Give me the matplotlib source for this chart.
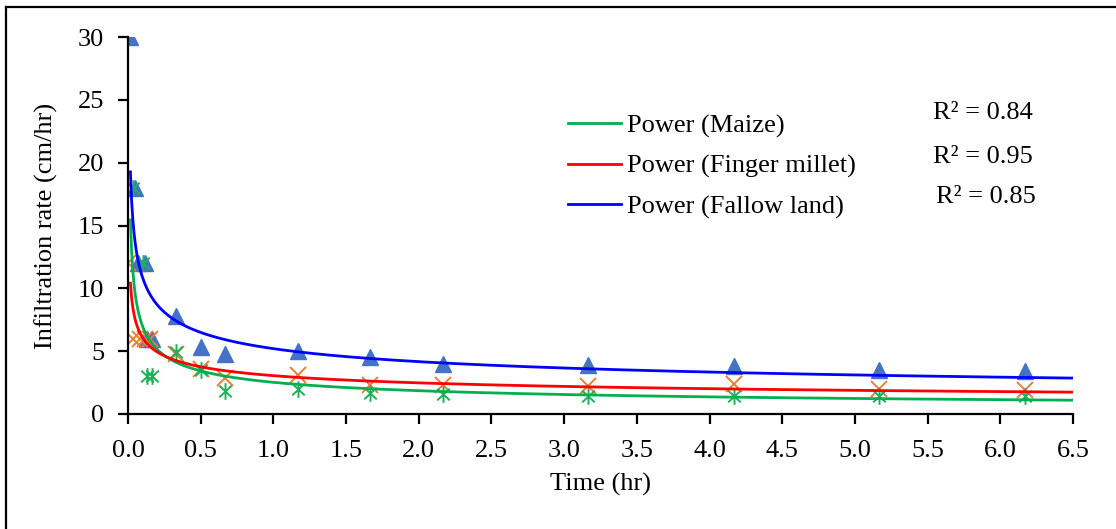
import numpy as np
import matplotlib
matplotlib.use("Agg")
import matplotlib.pyplot as plt
from matplotlib.path import Path
from matplotlib.lines import Line2D

# measured infiltration rates (cm/hr) against time (hr)
time_maize = [0.033, 0.1, 0.133, 0.167, 0.333, 0.5, 0.667, 1.167, 1.667, 2.167, 3.167, 4.167, 5.167, 6.167]
rate_maize = [18, 12, 3, 3, 4.9, 3.5, 1.8, 2.0, 1.7, 1.6, 1.4, 1.45, 1.45, 1.45]

time_millet = [0.003, 0.033, 0.083, 0.117, 0.15, 0.333, 0.5, 0.667, 1.167, 1.667, 2.167, 3.167, 4.167, 5.167, 6.167]
rate_millet = [12, 6, 6, 6, 6, 4.8, 3.6, 2.9, 3.1, 2.3, 2.3, 2.2, 2.4, 2.0, 1.9]

time_fallow = [0.0167, 0.05, 0.067, 0.117, 0.133, 0.167, 0.333, 0.5, 0.667, 1.167, 1.667, 2.167, 3.167, 4.167, 5.167, 6.167]
rate_fallow = [30, 18, 12, 12, 6, 6, 7.8, 5.3, 4.8, 5.0, 4.5, 4.0, 3.9, 3.8, 3.5, 3.4]

# power trendlines y = a * x^b (maize, finger millet, fallow land)
trend_names = ["Power (Maize)", "Power (Finger millet)", "Power (Fallow land)"]
trend_a = [2.52, 3.05, 5.2]
trend_b = [-0.443, -0.30, -0.32]
r_squared = [0.84, 0.95, 0.85]

plt.rcParams["font.family"] = ["Liberation Serif", "DejaVu Serif"]
plt.rcParams["font.size"] = 19

fig = plt.figure(figsize=(11.16, 5.29), dpi=100)
W, H = 1116, 529
ax = fig.add_axes([128 / W, 1 - 414 / H, (1073 - 128) / W, (414 - 37) / H])

# excel-like star marker: x with a vertical bar
star = Path([(0, -1), (0, 1), (-0.75, -0.7), (0.75, 0.7), (-0.75, 0.7), (0.75, -0.7)],
            [Path.MOVETO, Path.LINETO, Path.MOVETO, Path.LINETO, Path.MOVETO, Path.LINETO])

ax.plot(time_fallow, rate_fallow, ls="none", marker="^", ms=12, color="#4472C4", zorder=2)
ax.plot(time_millet, rate_millet, ls="none", marker="x", ms=11, mew=1.4, color="#ED7D31", zorder=2)
ax.plot(time_maize, rate_maize, ls="none", marker=star, ms=12, mew=1.4, mfc="none",
        mec="#1DB15A", zorder=2)

xs = np.linspace(0.0167, 6.5, 800)
line_cols = ["#00B050", "#FF0000", "#0000FF"]
handles = []
for a, b, col, name in zip(trend_a, trend_b, line_cols, trend_names):
    h, = ax.plot(xs, a * xs ** b, color=col, lw=2.0, zorder=3, label=name)
    handles.append(h)

ax.set_xlim(0, 6.5)
ax.set_ylim(0, 30)
ax.set_xticks(np.arange(0, 6.51, 0.5))
ax.set_xticklabels([f"{v:.1f}" for v in np.arange(0, 6.51, 0.5)])
ax.set_yticks(range(0, 31, 5))
for s in ["top", "right"]:
    ax.spines[s].set_visible(False)
for s in ["left", "bottom"]:
    ax.spines[s].set_linewidth(1.6)
ax.tick_params(axis="both", direction="out", length=7, width=1.6)
ax.tick_params(axis="x", pad=12)
ax.tick_params(axis="y", pad=10)

ax.set_xlabel("Time (hr)")
ax.xaxis.label.set_va("center")
ax.xaxis.set_label_coords(0.5, -0.188)
ax.set_ylabel("Infiltration rate (cm/hr)")
ax.yaxis.label.set_va("center")
ax.yaxis.set_label_coords(-0.086, 0.5)

ax.legend(handles=handles, loc="upper left", bbox_to_anchor=(568 / W, 1 - 114 / H),
          bbox_transform=fig.transFigure, frameon=False, borderpad=0, borderaxespad=0,
          handlelength=2.0, handletextpad=0.25, labelspacing=0.63)

r2_pos = [(983, 113), (983, 157), (986, 197)]
for (px, py), r2 in zip(r2_pos, r_squared):
    fig.text(px / W, 1 - py / H, f"R² = {r2:.2f}", ha="center", va="center")

# outer frame (left and top edges only)
fig.add_artist(Line2D([6 / W, 1], [1 - 7 / H] * 2, color="black", lw=1.6))
fig.add_artist(Line2D([6 / W] * 2, [0, 1 - 7 / H], color="black", lw=1.6))

fig.savefig("out.png", dpi=100)
